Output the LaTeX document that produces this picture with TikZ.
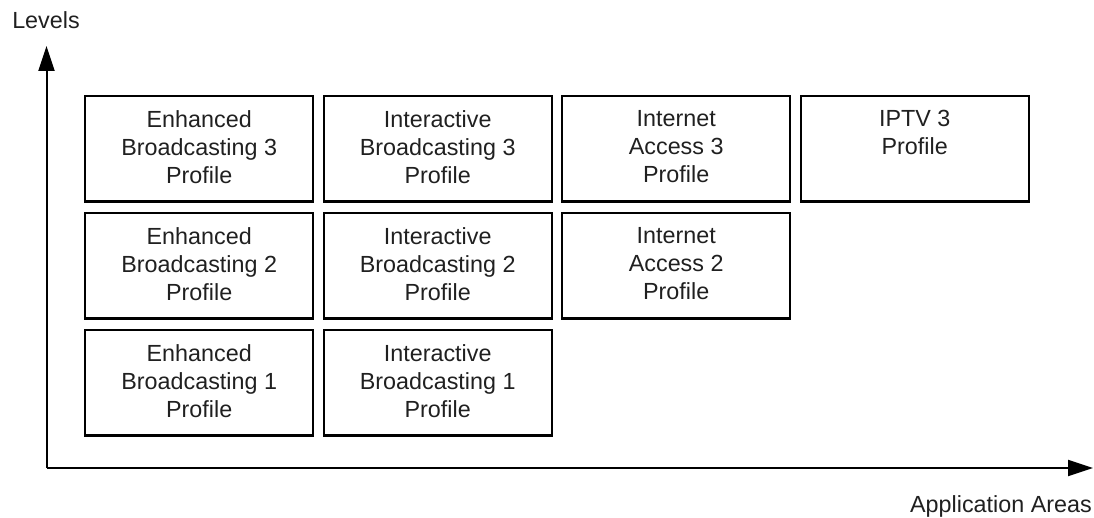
\documentclass[tikz,border=0pt]{standalone}
\usepackage{fontspec}
\setmainfont{Liberation Sans}
\usetikzlibrary{arrows.meta}
\definecolor{ink}{HTML}{202020}
\tikzset{
  profilebox/.style={draw=black, line width=1.8pt, minimum width=171pt, minimum height=79pt,
    inner sep=0pt, anchor=north west},
  profiletext/.style={text=ink, font=\fontsize{17.5}{21}\selectfont, align=center, anchor=north, inner sep=0pt},
  axislabel/.style={text=ink, font=\fontsize{17.5}{21}\selectfont, inner sep=0pt, anchor=base west},
  axis/.style={line width=1.5pt, -{Triangle[length=18.75pt, width=12pt]}}
}
\begin{document}
\begin{tikzpicture}[x=0.75pt, y=-0.75pt]
  \useasboundingbox (0,0) rectangle (1094,517);

  % axes
  \coordinate (origin) at (46.5,468);
  \coordinate (ytip) at (46.5,46);
  \coordinate (xtip) at (1093,468);
  \draw[axis] (origin) -- (ytip);
  \draw[axis] (origin) -- (xtip);
  \node[axislabel] (levels) at (12,29) {Levels};
  \node[axislabel, anchor=base east] (areas) at (1092,512) {Application Areas};

  % profile grid: columns at 84, 322.5, 561, 799.5; rows at 95, 212, 329
  \node[profilebox] (eb3) at (84,95) {};
  \node[profilebox] (ib3) at (322.5,95) {};
  \node[profilebox] (ia3) at (561,95) {};
  \node[profilebox] (tv3) at (799.5,95) {};
  \node[profilebox] (eb2) at (84,212) {};
  \node[profilebox] (ib2) at (322.5,212) {};
  \node[profilebox] (ia2) at (561,212) {};
  \node[profilebox] (eb1) at (84,329) {};
  \node[profilebox] (ib1) at (322.5,329) {};

  \node[profiletext] (eb3t) at ([yshift=-11.25pt]eb3.north) {Enhanced\\Broadcasting 3\\Profile};
  \node[profiletext] (ib3t) at ([yshift=-11.25pt]ib3.north) {Interactive\\Broadcasting 3\\Profile};
  \node[profiletext] (ia3t) at ([yshift=-11.25pt]ia3.north) {Internet\\Access 3\\Profile};
  \node[profiletext] (tv3t) at ([yshift=-11.25pt]tv3.north) {IPTV 3\\Profile};
  \node[profiletext] (eb2t) at ([yshift=-11.25pt]eb2.north) {Enhanced\\Broadcasting 2\\Profile};
  \node[profiletext] (ib2t) at ([yshift=-11.25pt]ib2.north) {Interactive\\Broadcasting 2\\Profile};
  \node[profiletext] (ia2t) at ([yshift=-11.25pt]ia2.north) {Internet\\Access 2\\Profile};
  \node[profiletext] (eb1t) at ([yshift=-11.25pt]eb1.north) {Enhanced\\Broadcasting 1\\Profile};
  \node[profiletext] (ib1t) at ([yshift=-11.25pt]ib1.north) {Interactive\\Broadcasting 1\\Profile};
\end{tikzpicture}
\end{document}
